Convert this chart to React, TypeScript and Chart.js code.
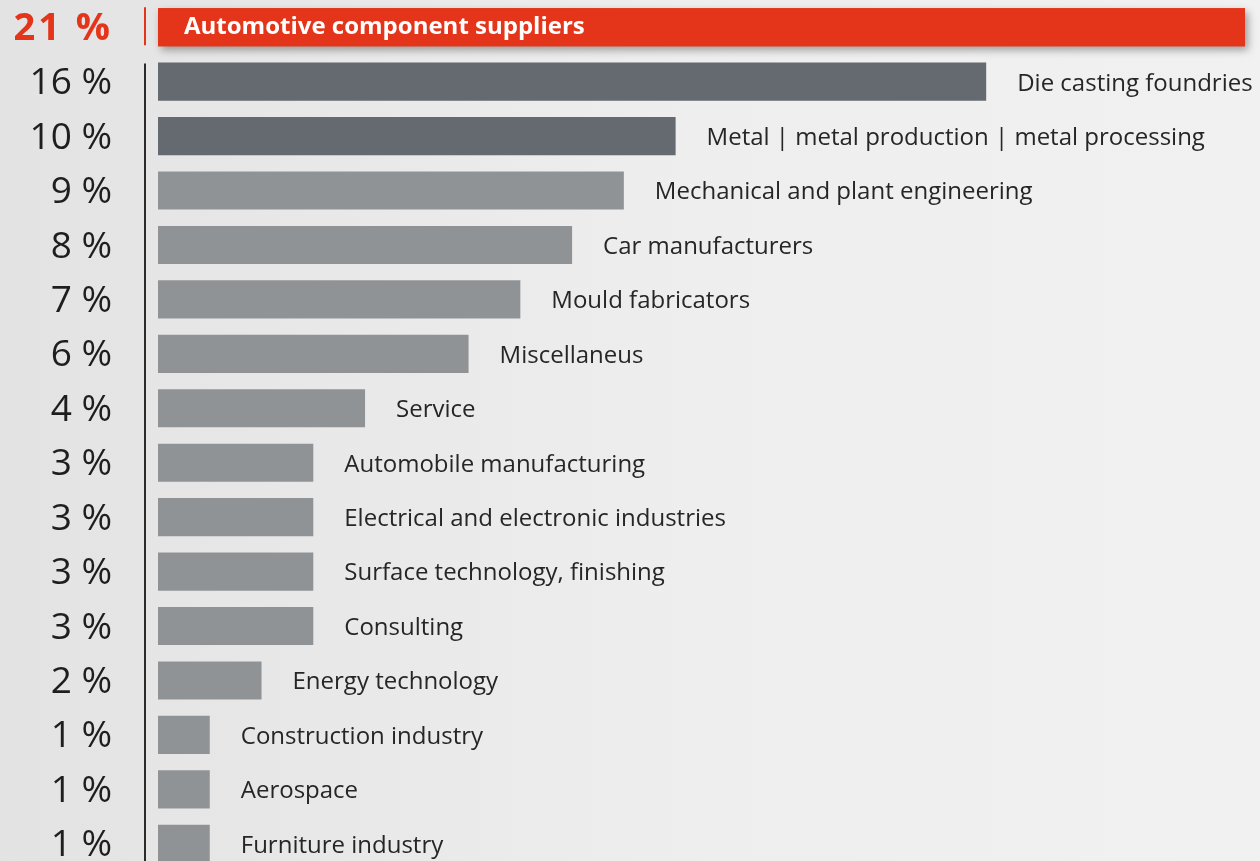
import React, { useEffect, useRef } from "react";
import { Chart, registerables } from "chart.js";

Chart.register(...registerables);

const categories = [
  "Automotive component suppliers",
  "Die casting foundries",
  "Metal | metal production | metal processing",
  "Mechanical and plant engineering",
  "Car manufacturers",
  "Mould fabricators",
  "Miscellaneus",
  "Service",
  "Automobile manufacturing",
  "Electrical and electronic industries",
  "Surface technology, finishing",
  "Consulting",
  "Energy technology",
  "Construction industry",
  "Aerospace",
  "Furniture industry",
];
const shares = [21, 16, 10, 9, 8, 7, 6, 4, 3, 3, 3, 3, 2, 1, 1, 1];
const barColors = [
  "#e4341a",
  "#646a6f",
  "#646a6f",
  "#909396",
  "#909396",
  "#909396",
  "#909396",
  "#909396",
  "#909396",
  "#909396",
  "#909396",
  "#909396",
  "#909396",
  "#909396",
  "#909396",
  "#909396",
];

const W = 1260;
const H = 871;

const decorPlugin = {
  id: "decor",
  beforeDraw(chart: any) {
    const ctx = chart.ctx;
    ctx.save();
    const g = ctx.createLinearGradient(0, 0, W, 0);
    g.addColorStop(0, "#e3e3e3");
    g.addColorStop(0.55, "#eeeeee");
    g.addColorStop(1, "#f1f1f1");
    ctx.fillStyle = g;
    ctx.fillRect(0, 0, W, H);
    ctx.restore();
  },
  beforeDatasetsDraw(chart: any) {
    const ctx = chart.ctx;
    const meta = chart.getDatasetMeta(0);
    const el = meta.data[0];
    if (!el) return;
    const p = el.getProps(["x", "y", "base", "height"], true);
    ctx.save();
    ctx.shadowColor = "rgba(0,0,0,0.35)";
    ctx.shadowBlur = 8;
    ctx.shadowOffsetX = 3;
    ctx.shadowOffsetY = 4;
    ctx.fillStyle = barColors[0];
    ctx.fillRect(p.base, p.y - p.height / 2, p.x - p.base, p.height);
    ctx.restore();
  },
  afterDatasetsDraw(chart: any) {
    const ctx = chart.ctx;
    const meta = chart.getDatasetMeta(0);
    const axisX = chart.chartArea.left - 13;
    ctx.save();
    const first = meta.data[0].getProps(["y", "height"], true);
    const second = meta.data[1].getProps(["y", "height"], true);
    ctx.lineWidth = 2;
    ctx.strokeStyle = "#e4341a";
    ctx.beginPath();
    ctx.moveTo(axisX, first.y - first.height / 2 - 1);
    ctx.lineTo(axisX, first.y + first.height / 2 - 1);
    ctx.stroke();
    ctx.strokeStyle = "#2b2b2b";
    ctx.beginPath();
    ctx.moveTo(axisX, second.y - second.height / 2 + 1);
    ctx.lineTo(axisX, H);
    ctx.stroke();

    meta.data.forEach((el: any, i: number) => {
      const p = el.getProps(["x", "y", "base", "height"], true);
      ctx.textAlign = "right";
      ctx.textBaseline = "middle";
      if (i === 0) {
        ctx.fillStyle = "#e4341a";
        ctx.font = "bold 38px 'Open Sans'";
        (ctx as any).letterSpacing = "3px";
        ctx.fillText(shares[i] + " %", 113, p.y + 2);
        (ctx as any).letterSpacing = "0px";
      } else {
        ctx.fillStyle = "#1e1e1e";
        ctx.font = "37px 'Open Sans'";
        ctx.fillText(shares[i] + " %", 112, p.y + 2);
      }
      ctx.textAlign = "left";
      if (i === 0) {
        ctx.fillStyle = "#ffffff";
        ctx.font = "bold 24px 'Open Sans'";
        ctx.fillText(categories[i], p.base + 26, p.y);
      } else {
        ctx.fillStyle = "#262626";
        ctx.font = "24px 'Open Sans'";
        ctx.fillText(categories[i], p.x + 31, p.y + 2);
      }
    });
    ctx.restore();
  },
};

export default function App() {
  const ref = useRef<HTMLCanvasElement | null>(null);
  useEffect(() => {
    document.body.style.margin = "0";
    document.body.style.overflow = "hidden";
    const canvas = ref.current;
    if (!canvas) return;
    const chart = new Chart(canvas, {
      type: "bar",
      data: {
        labels: categories,
        datasets: [
          {
            data: shares,
            backgroundColor: barColors,
            borderWidth: 0,
            barPercentage: 0.7,
            categoryPercentage: 1,
          },
        ],
      },
      options: {
        indexAxis: "y",
        responsive: false,
        animation: false,
        layout: { padding: { left: 158, right: 15, top: 0, bottom: 0 } },
        plugins: {
          legend: { display: false },
          tooltip: { enabled: false },
        },
        scales: {
          x: { display: false, min: 0, max: 21 },
          y: { display: false },
        },
      },
      plugins: [decorPlugin],
    });
    return () => chart.destroy();
  }, []);
  return (
    <div
      style={{
        position: "fixed",
        left: 0,
        top: 0,
        width: W,
        height: 861,
        overflow: "hidden",
      }}
    >
      <canvas ref={ref} width={W} height={H} style={{ width: W, height: H, display: "block" }} />
    </div>
  );
}
